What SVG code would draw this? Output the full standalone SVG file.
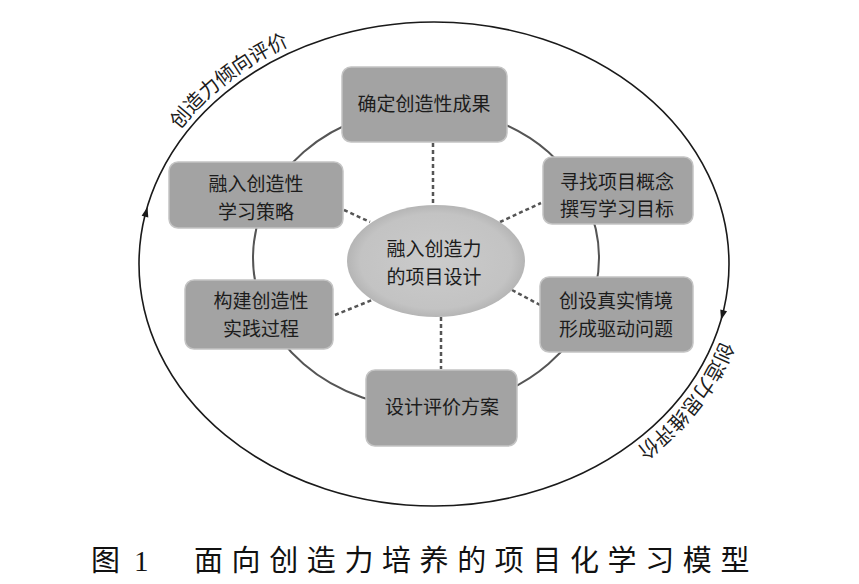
<svg xmlns="http://www.w3.org/2000/svg" width="859" height="584" viewBox="0 0 859 584">
<style>
  .box{fill:#a3a3a3;stroke:#c4c4c4;stroke-width:1.5}
  .t{font-family:"Noto Sans CJK SC","Noto Sans CJK TC",sans-serif;font-size:19px;fill:#1c1c1c;text-anchor:middle}
  .dash{stroke:#555;stroke-width:2.5;stroke-dasharray:4 3;fill:none}
  .lab{font-family:"Noto Sans CJK SC",sans-serif;font-size:20px;fill:#1c1c1c}
  .cap{font-family:"Noto Sans CJK SC",serif;font-size:29px;fill:#111}
</style>
<defs>
  <radialGradient id="cg" cx="50%" cy="50%" r="50%">
    <stop offset="0" stop-color="#cbcbcb"/>
    <stop offset="0.85" stop-color="#c3c3c3"/>
    <stop offset="1" stop-color="#b5b5b5"/>
  </radialGradient>
  <path id="arcL" d="M143.7,195.3 A302,249 0 0 1 360.9,22.4"/>
  <path id="arcR" d="M735.8,272.7 A302,249 0 0 1 575.8,483.8"/>
</defs>
<rect width="859" height="584" fill="#fff"/>
<g id="cycle">
  <ellipse cx="434" cy="264" rx="295" ry="242" fill="none" stroke="#1a1a1a" stroke-width="1.6"/>
  <polygon points="147.5,207 148.3,217.6 141.6,215.8" fill="#1a1a1a"/>
  <polygon points="721,320 727.1,311.3 720.3,309.5" fill="#1a1a1a"/>
  <text class="lab"><textPath href="#arcL" startOffset="50%" text-anchor="middle">创造力倾向评价</textPath></text>
  <text class="lab"><textPath href="#arcR" startOffset="50%" text-anchor="middle">创造力思维评价</textPath></text>
</g>
<g id="connectors">
  <ellipse cx="426" cy="258" rx="173" ry="150" fill="none" stroke="#555" stroke-width="2"/>
  <line class="dash" x1="433" y1="143" x2="433" y2="206"/>
  <line class="dash" x1="344" y1="210" x2="370" y2="222"/>
  <line class="dash" x1="500" y1="222" x2="541" y2="203"/>
  <line class="dash" x1="335" y1="315" x2="372" y2="300"/>
  <line class="dash" x1="512" y1="290" x2="540" y2="305"/>
  <line class="dash" x1="441" y1="317" x2="441" y2="369"/>
</g>
<g id="center">
  <ellipse cx="436" cy="261" rx="89" ry="56" fill="url(#cg)"/>
  <text class="t" x="434" y="256" font-size="18.5">融入创造力</text>
  <text class="t" x="434" y="284" font-size="18.5">的项目设计</text>
</g>
<g id="n-top">
  <rect class="box" x="342" y="67" width="165" height="75" rx="9"/>
  <text class="t" x="424" y="111">确定创造性成果</text>
</g>
<g id="n-ul">
  <rect class="box" x="169" y="162" width="174" height="66" rx="9"/>
  <text class="t" x="256" y="191">融入创造性</text>
  <text class="t" x="256" y="219">学习策略</text>
</g>
<g id="n-ur">
  <rect class="box" x="543" y="157" width="150" height="67" rx="9"/>
  <text class="t" x="617" y="189">寻找项目概念</text>
  <text class="t" x="617" y="216">撰写学习目标</text>
</g>
<g id="n-ll">
  <rect class="box" x="185" y="280" width="148" height="69" rx="9"/>
  <text class="t" x="261" y="308">构建创造性</text>
  <text class="t" x="261" y="336">实践过程</text>
</g>
<g id="n-lr">
  <rect class="box" x="540" y="277" width="153" height="75" rx="9"/>
  <text class="t" x="616" y="308">创设真实情境</text>
  <text class="t" x="616" y="336">形成驱动问题</text>
</g>
<g id="n-bottom">
  <rect class="box" x="366" y="370" width="151" height="76" rx="9"/>
  <text class="t" x="442" y="414">设计评价方案</text>
</g>
<g id="caption">
  <text class="cap" y="571"><tspan x="91">图</tspan><tspan x="134" font-family="Liberation Serif,serif">1</tspan><tspan x="194" letter-spacing="8.6">面向创造力培养的项目化学习模型</tspan></text>
</g>
</svg>
